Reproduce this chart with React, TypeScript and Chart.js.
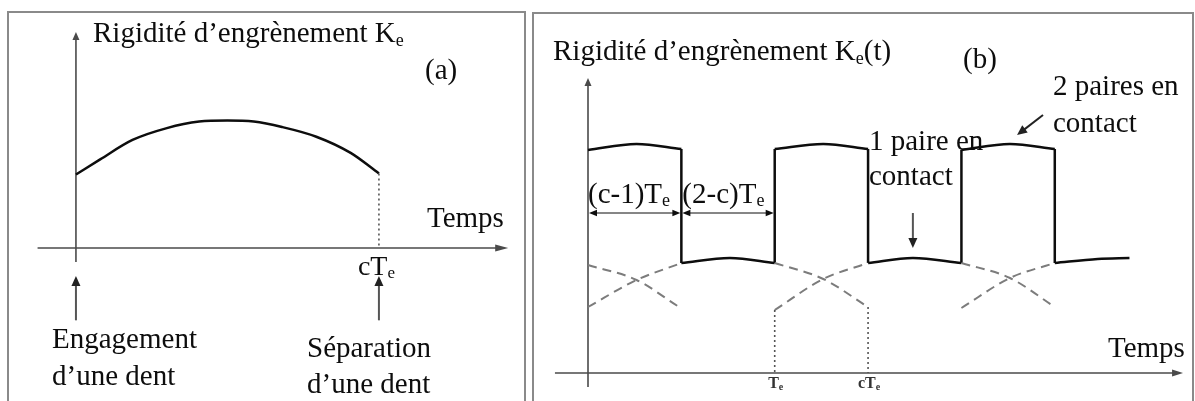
import React, { useEffect, useRef } from "react";
import { Chart, registerables } from "chart.js";

Chart.register(...registerables);

// ---------- (a) stiffness of a single tooth pair over its contact time (time in Te, c = 1.5)
const toothTime = [0, 0.12, 0.28, 0.45, 0.61, 0.75, 0.88, 1.02, 1.19, 1.36, 1.5];
const toothStiffness = [0.68, 0.82, 1.0, 1.11, 1.17, 1.18, 1.17, 1.12, 1.03, 0.88, 0.69];
const separationTime = 1.5;

// ---------- (b) total mesh stiffness Ke(t)
// two pairs in contact
const doublePairTime = [
  [0, 0.26, 0.5],
  [1, 1.26, 1.5],
  [2, 2.26, 2.5],
];
const doublePairStiffness = [
  [2.23, 2.29, 2.24],
  [2.24, 2.29, 2.24],
  [2.23, 2.29, 2.24],
];
// one pair in contact
const singlePairTime = [
  [0.5, 0.76, 1],
  [1.5, 1.74, 2],
  [2.5, 2.73, 2.9],
];
const singlePairStiffness = [
  [1.1, 1.15, 1.1],
  [1.1, 1.15, 1.1],
  [1.1, 1.14, 1.15],
];
// each tooth's own stiffness while two pairs share the load
const leavingTime = [
  [0, 0.26, 0.48],
  [1, 1.26, 1.5],
  [2, 2.26, 2.5],
];
const leavingStiffness = [
  [1.08, 0.93, 0.67],
  [1.1, 0.94, 0.66],
  [1.1, 0.95, 0.66],
];
const enteringTime = [
  [0, 0.26, 0.5],
  [1, 1.26, 1.5],
  [2, 2.26, 2.5],
];
const enteringStiffness = [
  [0.66, 0.93, 1.1],
  [0.63, 0.94, 1.1],
  [0.65, 0.95, 1.1],
];
// time marks on the axis of (b)
const markTime = [1, 1.5];
const markLabel = ["T", "cT"];
// dimension spans above the first period
const spanStart = [0, 0.5];
const spanEnd = [0.5, 1];
const spanLabel = ["(c-1)T", "(2-c)T"];
const spanLevel = 1.6;

const INK = "#0d0d0d";
const AXIS = "#4a4a4a";
const DASH = "#7c7c7c";
const FRAME = "#8a8a8a";
const SERIF = '"Liberation Serif", "Times New Roman", serif';

type Pt = { x: number; y: number };
const zip = (xs: number[], ys: number[]): Pt[] => xs.map((x, i) => ({ x, y: ys[i] }));

const solid = (data: Pt[], smooth = true) => ({
  data,
  borderColor: INK,
  borderWidth: 2.5,
  pointRadius: 0,
  fill: false,
  tension: 0,
  cubicInterpolationMode: smooth ? "monotone" : "default",
});
const dashed = (data: Pt[]) => ({
  data,
  borderColor: DASH,
  borderWidth: 2,
  borderDash: [9, 6],
  pointRadius: 0,
  fill: false,
  tension: 0,
  cubicInterpolationMode: "monotone",
});
const dotted = (data: Pt[]) => ({
  data,
  borderColor: "#555",
  borderWidth: 1.6,
  borderDash: [2, 3],
  pointRadius: 0,
  fill: false,
  tension: 0,
});

function seg(ctx: CanvasRenderingContext2D, x1: number, y1: number, x2: number, y2: number) {
  ctx.beginPath();
  ctx.moveTo(x1, y1);
  ctx.lineTo(x2, y2);
  ctx.stroke();
}

function head(
  ctx: CanvasRenderingContext2D,
  tipX: number,
  tipY: number,
  fromX: number,
  fromY: number,
  len: number,
  half: number
) {
  const a = Math.atan2(tipY - fromY, tipX - fromX);
  const bx = tipX - Math.cos(a) * len;
  const by = tipY - Math.sin(a) * len;
  ctx.beginPath();
  ctx.moveTo(tipX, tipY);
  ctx.lineTo(bx + Math.sin(a) * half, by - Math.cos(a) * half);
  ctx.lineTo(bx - Math.sin(a) * half, by + Math.cos(a) * half);
  ctx.closePath();
  ctx.fill();
}

function arrow(
  ctx: CanvasRenderingContext2D,
  x1: number,
  y1: number,
  x2: number,
  y2: number,
  len: number,
  half: number
) {
  const a = Math.atan2(y2 - y1, x2 - x1);
  seg(ctx, x1, y1, x2 - Math.cos(a) * len * 0.6, y2 - Math.sin(a) * len * 0.6);
  head(ctx, x2, y2, x1, y1, len, half);
}

// parts: [text, size, baseline shift]
type Part = [string, number, number];
function rich(
  ctx: CanvasRenderingContext2D,
  x: number,
  y: number,
  parts: Part[],
  color = INK,
  weight = "",
  center = false
) {
  ctx.fillStyle = color;
  ctx.textBaseline = "alphabetic";
  ctx.textAlign = "left";
  let total = 0;
  for (const [t, s] of parts) {
    ctx.font = `${weight} ${s}px ${SERIF}`;
    total += ctx.measureText(t).width;
  }
  let cx = center ? x - total / 2 : x;
  for (const [t, s, dy] of parts) {
    ctx.font = `${weight} ${s}px ${SERIF}`;
    ctx.fillText(t, cx, y + dy);
    cx += ctx.measureText(t).width;
  }
}

const panelAPlugin = {
  id: "panelA",
  beforeDatasetsDraw(chart: any) {
    const { ctx } = chart;
    const xs = chart.scales.x;
    const ys = chart.scales.y;
    const x0 = xs.getPixelForValue(0);
    const y0 = ys.getPixelForValue(0);
    ctx.save();
    ctx.strokeStyle = FRAME;
    ctx.lineWidth = 2;
    ctx.beginPath();
    ctx.moveTo(8, 401);
    ctx.lineTo(8, 12);
    ctx.lineTo(525, 12);
    ctx.lineTo(525, 401);
    ctx.stroke();

    ctx.strokeStyle = AXIS;
    ctx.fillStyle = AXIS;
    ctx.lineWidth = 1.6;
    // vertical axis
    const yTop = ys.getPixelForValue(2.0);
    seg(ctx, x0, ys.getPixelForValue(-0.13), x0, yTop + 4);
    head(ctx, x0, yTop, x0, yTop + 10, 8, 3.5);
    // time axis
    const xEnd = xs.getPixelForValue(2.14);
    seg(ctx, xs.getPixelForValue(-0.19), y0, xEnd - 6, y0);
    head(ctx, xEnd, y0, xEnd - 10, y0, 13, 3.5);

    // engagement / separation pointers
    ctx.strokeStyle = "#555";
    ctx.fillStyle = "#222";
    ctx.lineWidth = 2;
    for (const t of [0, separationTime]) {
      const px = xs.getPixelForValue(t);
      arrow(ctx, px, ys.getPixelForValue(-0.67), px, ys.getPixelForValue(-0.26), 10, 4.5);
    }
    ctx.restore();
  },
  afterDatasetsDraw(chart: any) {
    const { ctx } = chart;
    const xs = chart.scales.x;
    ctx.save();
    rich(ctx, 93, 42, [
      ["Rigidité d’engrènement K", 29, 0],
      ["e", 18, 4],
    ]);
    rich(ctx, 425, 79, [["(a)", 29, 0]]);
    rich(ctx, 427, 227, [["Temps", 29, 0]]);
    const sx = xs.getPixelForValue(separationTime);
    rich(ctx, sx - 21, 275, [
      ["cT", 28, 0],
      ["e", 17, 3],
    ]);
    rich(ctx, 52, 348, [["Engagement", 29, 0]]);
    rich(ctx, 52, 385, [["d’une dent", 29, 0]]);
    rich(ctx, 307, 357, [["Séparation", 29, 0]]);
    rich(ctx, 307, 393, [["d’une dent", 29, 0]]);
    ctx.restore();
  },
};

const panelBPlugin = {
  id: "panelB",
  beforeDatasetsDraw(chart: any) {
    const { ctx } = chart;
    const xs = chart.scales.x;
    const ys = chart.scales.y;
    const x0 = xs.getPixelForValue(0);
    const y0 = ys.getPixelForValue(0);
    ctx.save();
    ctx.strokeStyle = FRAME;
    ctx.lineWidth = 2;
    ctx.beginPath();
    ctx.moveTo(4, 401);
    ctx.lineTo(4, 13);
    ctx.lineTo(664, 13);
    ctx.lineTo(664, 401);
    ctx.stroke();

    ctx.strokeStyle = AXIS;
    ctx.fillStyle = AXIS;
    ctx.lineWidth = 1.6;
    const yTop = ys.getPixelForValue(2.95);
    seg(ctx, x0, ys.getPixelForValue(-0.14), x0, yTop + 4);
    head(ctx, x0, yTop, x0, yTop + 10, 8, 3.5);
    const xEnd = xs.getPixelForValue(3.187);
    seg(ctx, xs.getPixelForValue(-0.177), y0, xEnd - 6, y0);
    head(ctx, xEnd, y0, xEnd - 10, y0, 11, 3.5);

    // dimension spans
    ctx.strokeStyle = INK;
    ctx.fillStyle = INK;
    ctx.lineWidth = 1;
    const ly = ys.getPixelForValue(spanLevel);
    spanStart.forEach((s, i) => {
      const a = xs.getPixelForValue(s) + 1;
      const b = xs.getPixelForValue(spanEnd[i]) - 1;
      seg(ctx, a + 4, ly, b - 4, ly);
      head(ctx, a, ly, a + 10, ly, 8, 3.2);
      head(ctx, b, ly, b - 10, ly, 8, 3.2);
    });

    // pointers to the one-pair and two-pair phases
    ctx.strokeStyle = "#555";
    ctx.fillStyle = "#222";
    ctx.lineWidth = 2;
    arrow(
      ctx,
      xs.getPixelForValue(1.74),
      ys.getPixelForValue(1.6),
      xs.getPixelForValue(1.74),
      ys.getPixelForValue(1.25),
      10,
      4.5
    );
    ctx.strokeStyle = "#222";
    arrow(
      ctx,
      xs.getPixelForValue(2.437),
      ys.getPixelForValue(2.58),
      xs.getPixelForValue(2.298),
      ys.getPixelForValue(2.38),
      10,
      4.5
    );
    ctx.restore();
  },
  afterDatasetsDraw(chart: any) {
    const { ctx } = chart;
    const xs = chart.scales.x;
    ctx.save();
    rich(ctx, 24, 60, [
      ["Rigidité d’engrènement K", 29, 0],
      ["e", 18, 4],
      ["(t)", 29, 0],
    ]);
    rich(ctx, 434, 68, [["(b)", 29, 0]]);
    spanStart.forEach((s, i) => {
      rich(ctx, xs.getPixelForValue(s) + (i ? 1 : 0), 203, [
        [spanLabel[i], 29, 0],
        ["e", 18, 3],
      ]);
    });
    rich(ctx, 340, 150, [["1 paire en", 29, 0]]);
    rich(ctx, 340, 185, [["contact", 29, 0]]);
    rich(ctx, 524, 95, [["2 paires en", 29, 0]]);
    rich(ctx, 524, 132, [["contact", 29, 0]]);
    rich(ctx, 579, 357, [["Temps", 29, 0]]);
    markTime.forEach((t, i) => {
      rich(
        ctx,
        xs.getPixelForValue(t) + 1,
        388,
        [
          [markLabel[i], 16, 0],
          ["e", 10, 2],
        ],
        "#333",
        "bold",
        true
      );
    });
    ctx.restore();
  },
};

function baseOptions(xMin: number, xMax: number, yMin: number, yMax: number) {
  return {
    responsive: false,
    animation: false as const,
    events: [] as any[],
    layout: { padding: 0 },
    plugins: {
      legend: { display: false },
      tooltip: { enabled: false },
      title: { display: false },
    },
    scales: {
      x: { type: "linear" as const, display: false, min: xMin, max: xMax },
      y: { type: "linear" as const, display: false, min: yMin, max: yMax },
    },
  };
}

function buildPanelA(canvas: HTMLCanvasElement) {
  const curve = zip(toothTime, toothStiffness);
  const last = toothStiffness[toothStiffness.length - 1];
  return new Chart(canvas, {
    type: "line",
    data: {
      datasets: [
        dotted([
          { x: separationTime, y: last },
          { x: separationTime, y: 0 },
        ]),
        solid(curve),
      ] as any,
    },
    options: baseOptions(-0.376, 2.243, -1.417, 2.296) as any,
    plugins: [panelAPlugin],
  });
}

function buildPanelB(canvas: HTMLCanvasElement) {
  const sets: any[] = [];
  // dotted marks down to the axis: next tooth engaging at Te, tooth leaving at cTe
  sets.push(
    dotted([
      { x: enteringTime[1][0], y: enteringStiffness[1][0] },
      { x: enteringTime[1][0], y: 0 },
    ])
  );
  sets.push(
    dotted([
      { x: leavingTime[1][2], y: leavingStiffness[1][2] },
      { x: leavingTime[1][2], y: 0 },
    ])
  );
  leavingTime.forEach((t, i) => sets.push(dashed(zip(t, leavingStiffness[i]))));
  enteringTime.forEach((t, i) => sets.push(dashed(zip(t, enteringStiffness[i]))));
  doublePairTime.forEach((t, i) => {
    sets.push(solid(zip(t, doublePairStiffness[i])));
    // drop to one pair
    const te = t[t.length - 1];
    sets.push(
      solid(
        [
          { x: te, y: doublePairStiffness[i][2] },
          { x: te, y: singlePairStiffness[i][0] },
        ],
        false
      )
    );
  });
  singlePairTime.forEach((t, i) => {
    sets.push(solid(zip(t, singlePairStiffness[i])));
    // rise back to two pairs
    if (i + 1 < doublePairTime.length) {
      const te = t[t.length - 1];
      sets.push(
        solid(
          [
            { x: te, y: singlePairStiffness[i][2] },
            { x: te, y: doublePairStiffness[i + 1][0] },
          ],
          false
        )
      );
    }
  });
  return new Chart(canvas, {
    type: "line",
    data: { datasets: sets },
    options: baseOptions(-0.316, 3.251, -0.28, 3.73) as any,
    plugins: [panelBPlugin],
  });
}

export default function App() {
  const refA = useRef<HTMLCanvasElement>(null);
  const refB = useRef<HTMLCanvasElement>(null);

  useEffect(() => {
    if (!refA.current || !refB.current) return;
    const a = buildPanelA(refA.current);
    const b = buildPanelB(refB.current);
    return () => {
      a.destroy();
      b.destroy();
    };
  }, []);

  return (
    <div
      style={{
        position: "fixed",
        left: 0,
        top: 0,
        width: 1195,
        height: 401,
        background: "#fff",
        overflow: "hidden",
      }}
    >
      <canvas
        ref={refA}
        width={529}
        height={401}
        style={{ position: "absolute", left: 0, top: 0, width: 529, height: 401 }}
      />
      <canvas
        ref={refB}
        width={666}
        height={401}
        style={{ position: "absolute", left: 529, top: 0, width: 666, height: 401 }}
      />
    </div>
  );
}
